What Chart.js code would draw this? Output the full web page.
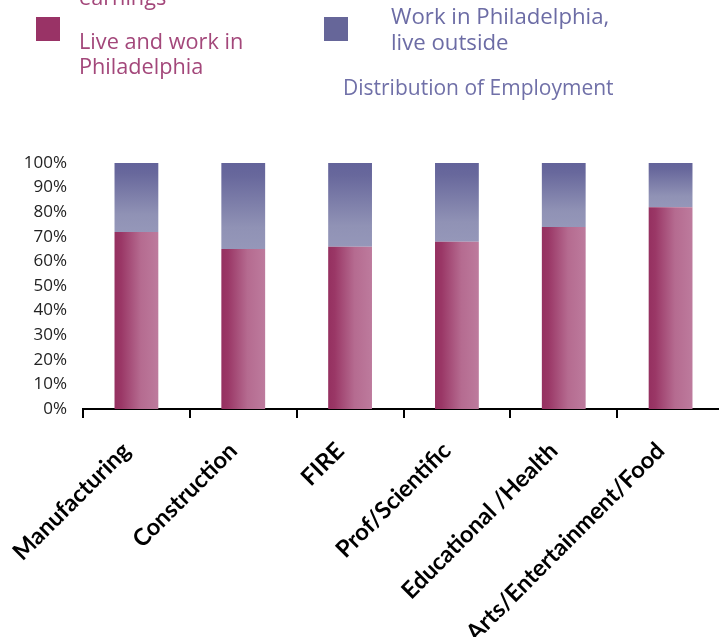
<!DOCTYPE html>
<html>
<head>
<meta charset="utf-8">
<script src="https://cdn.jsdelivr.net/npm/chart.js@4.4.1/dist/chart.umd.min.js"></script>
<style>
  html, body { margin: 0; padding: 0; background: #fff; overflow: hidden; width: 719px; height: 637px; }
  #wrap { position: absolute; left: 0; top: 0; width: 725px; height: 637px; }
  .t { position: absolute; font-family: "Open Sans", sans-serif; font-size: 21.7px; line-height: 25px; white-space: nowrap; }
  .pink { color: #a3477a; }
  .blue { color: #6c6ca5; }
  .sq { position: absolute; width: 24px; height: 24px; }
</style>
</head>
<body>
<div id="wrap"><canvas id="c" width="725" height="637"></canvas></div>
<div class="t pink" style="left:79px; top:-16px;">earnings</div>
<div class="sq" style="left:36px; top:17px; background:#993366;"></div>
<div class="t pink" style="left:79px; top:28px;">Live and work in<br>Philadelphia</div>
<div class="sq" style="left:324px; top:17px; background:#666699;"></div>
<div class="t blue" style="left:391px; top:3px; line-height:26px; font-size:22.2px;">Work in Philadelphia,<br>live outside</div>
<div class="t blue" style="left:343px; top:75px; font-size:21px; color:#7070a8;">Distribution of Employment</div>
<script>
const categories = ["Manufacturing", "Construction", "FIRE", "Prof/Scientific", "Educational /Health", "Arts/Entertainment/Food"];
const liveAndWork = [72, 65, 66, 68, 74, 82];
const workOnly = [28, 35, 34, 32, 26, 18];
const seriesNames = ["Live and work in Philadelphia", "Work in Philadelphia, live outside"];

const BAR_FRACTION = 0.41;

function pinkFill(ctx) {
  if (ctx.type !== 'data') return '#993366';
  const chart = ctx.chart;
  const xs = chart.scales.x;
  if (!xs || !chart.chartArea) return '#993366';
  const cx = xs.getPixelForValue(ctx.dataIndex);
  const w = (xs.width / categories.length) * BAR_FRACTION;
  const g = chart.ctx.createLinearGradient(cx - w / 2, 0, cx + w / 2, 0);
  g.addColorStop(0, '#953060');
  g.addColorStop(0.15, '#9a3766');
  g.addColorStop(0.6, '#b56b90');
  g.addColorStop(1, '#bd7b9d');
  return g;
}
function blueFill(ctx) {
  if (ctx.type !== 'data') return '#666699';
  const chart = ctx.chart;
  const ys = chart.scales.y;
  if (!ys || !chart.chartArea) return '#666699';
  const top = ys.getPixelForValue(100);
  const bot = ys.getPixelForValue(liveAndWork[ctx.dataIndex]);
  const g = chart.ctx.createLinearGradient(0, top, 0, bot);
  g.addColorStop(0, '#63639a');
  g.addColorStop(0.15, '#68689c');
  g.addColorStop(0.75, '#9092b5');
  g.addColorStop(1, '#9597b9');
  return g;
}

new Chart(document.getElementById('c'), {
  type: 'bar',
  data: {
    labels: categories,
    datasets: [
      { label: seriesNames[0], data: liveAndWork, backgroundColor: pinkFill, borderWidth: 0 },
      { label: seriesNames[1], data: workOnly, backgroundColor: blueFill, borderWidth: 0 }
    ]
  },
  options: {
    responsive: false,
    animation: false,
    layout: { padding: { top: 163, right: 1, left: 0, bottom: 0 } },
    datasets: { bar: { categoryPercentage: 1, barPercentage: BAR_FRACTION } },
    plugins: { legend: { display: false }, tooltip: { enabled: false }, title: { display: false } },
    scales: {
      x: {
        stacked: true,
        afterFit: (s) => { s.height = 228; },
        grid: { display: true, drawOnChartArea: false, drawTicks: true, tickLength: 9, color: '#000', lineWidth: 2, offset: true },
        border: { display: true, color: '#000', width: 2 },
        ticks: {
          minRotation: 45, maxRotation: 45, autoSkip: false, padding: 19, labelOffset: -10,
          color: '#000',
          font: { family: 'Lato', weight: 'bold', size: 23.5 }
        }
      },
      y: {
        stacked: true,
        min: 0, max: 100,
        afterFit: (s) => { s.width = 83; },
        grid: { display: false, drawTicks: false },
        border: { display: false },
        ticks: {
          stepSize: 10, padding: 16, color: '#222',
          font: { family: 'Open Sans', size: 17 },
          callback: (v) => v + '%'
        }
      }
    }
  }
});
</script>
</body>
</html>
